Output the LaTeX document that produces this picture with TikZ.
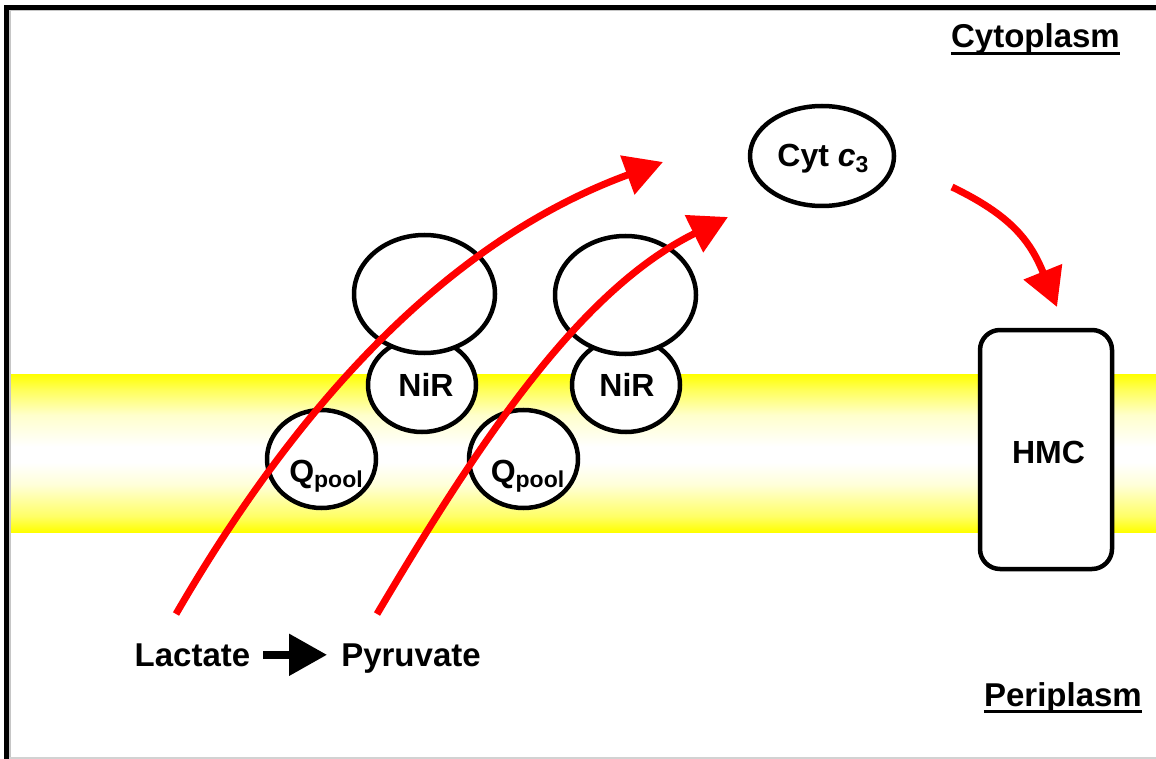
\documentclass[tikz,border=0pt]{standalone}
\usepackage{fontspec}
\setmainfont{Liberation Sans}
\usetikzlibrary{arrows.meta,shapes.geometric}
\pgfdeclareverticalshading{membrane}{100bp}{color(0bp)=(yellow); color(25bp)=(yellow); color(30bp)=(yellow!60!white); color(40bp)=(yellow!15!white); color(47bp)=(white); color(52bp)=(white); color(62bp)=(yellow!20!white); color(70bp)=(yellow!65!white); color(75bp)=(yellow); color(100bp)=(yellow)}
\begin{document}
\begin{tikzpicture}[x=1pt,y=-1pt,
  lbl/.style={font=\fontsize{33}{40}\selectfont\bfseries, inner sep=0pt, anchor=base},
  inlbl/.style={font=\fontsize{32}{38}\selectfont\bfseries, inner sep=0pt, anchor=base},
  prot/.style={draw=black, line width=4.5pt, fill=white, ellipse, inner sep=0pt},
  bigell/.style={prot, minimum width=141pt, minimum height=118pt},
  nirell/.style={prot, minimum width=108pt, minimum height=94pt},
  qell/.style={prot, minimum width=109pt, minimum height=98pt},
  cytell/.style={prot, minimum width=144pt, minimum height=100pt},
  hmcbox/.style={draw=black, line width=4.5pt, fill=white, rectangle, rounded corners=20pt, minimum width=132pt, minimum height=239pt, inner sep=0pt},
  redarrow/.style={draw=red, line width=7pt, -{Triangle[length=38pt,width=40pt]}},
  blackarrow/.style={draw=black, line width=8pt, -{Triangle[length=38pt,width=40pt]}}
]
\useasboundingbox (0,0) rectangle (1156,759);
% membrane
\shade[shading=membrane] (9,374) rectangle (1156,532);
% frame
\draw[gray!45, line width=1.5pt] (10,759) -- (10,10.5) -- (1156,10.5);
\draw[gray!35, line width=1.5pt] (8,758) -- (1156,758);
\draw[black, line width=5.5pt, line join=miter] (6.5,759) -- (6.5,7.5) -- (1156,7.5);
% proteins
\node[qell] (q1) at (321.5,459) {};
\node[qell] (q2) at (523.5,459) {};
\node[nirell] (n1) at (422,385) {};
\node[nirell] (n2) at (626,385) {};
\node[bigell] (b1) at (424.5,294) {};
\node[bigell] (b2) at (625.5,295) {};
\node[cytell] (cyt) at (822,156) {};
\node[hmcbox] (hmc) at (1046,449.5) {};
% labels in proteins
\node[inlbl] (qt1) at (326,482) {Q\raisebox{-5pt}{\fontsize{23}{23}\selectfont pool}};
\node[inlbl] (qt2) at (527.5,482) {Q\raisebox{-5pt}{\fontsize{23}{23}\selectfont pool}};
\node[inlbl] (nt1) at (426,396) {NiR};
\node[inlbl] (nt2) at (627,396) {NiR};
\node[inlbl] (ct) at (823,167) {Cyt \textit{c}\raisebox{-6pt}{\fontsize{23}{23}\selectfont 3}};
\node[inlbl] (ht) at (1048.5,463) {HMC};
% compartment labels
\node[lbl, anchor=base east] (cyto) at (1120,48) {Cytoplasm};
\draw[line width=3pt] ([yshift=-5.5pt]cyto.base west) -- ([yshift=-5.5pt]cyto.base east);
\node[lbl, anchor=base east] (peri) at (1142,706) {Periplasm};
\draw[line width=3pt] ([yshift=-5.5pt]peri.base west) -- ([yshift=-5.5pt]peri.base east);
% substrates
\node[lbl] (lac) at (192.5,666) {Lactate};
\node[lbl] (pyr) at (411,666) {Pyruvate};
\draw[blackarrow] ([xshift=13pt]lac.east) -- ([xshift=-14pt]pyr.west |- lac.east);
% red electron paths
\coordinate (s1) at (176,614);
\coordinate (h1) at (663,162);
\coordinate (s2) at (377,614);
\coordinate (h2) at (728,217);
\coordinate (s3) at (952,187);
\coordinate (h3) at (1057,307);
\draw[redarrow] (s1) .. controls (300,400) and (450,240) .. (h1);
\draw[redarrow] (s2) .. controls (480,440) and (580,290) .. (h2);
\draw[redarrow] (s3) .. controls (1010,215) and (1030,240) .. (h3);
\end{tikzpicture}
\end{document}
